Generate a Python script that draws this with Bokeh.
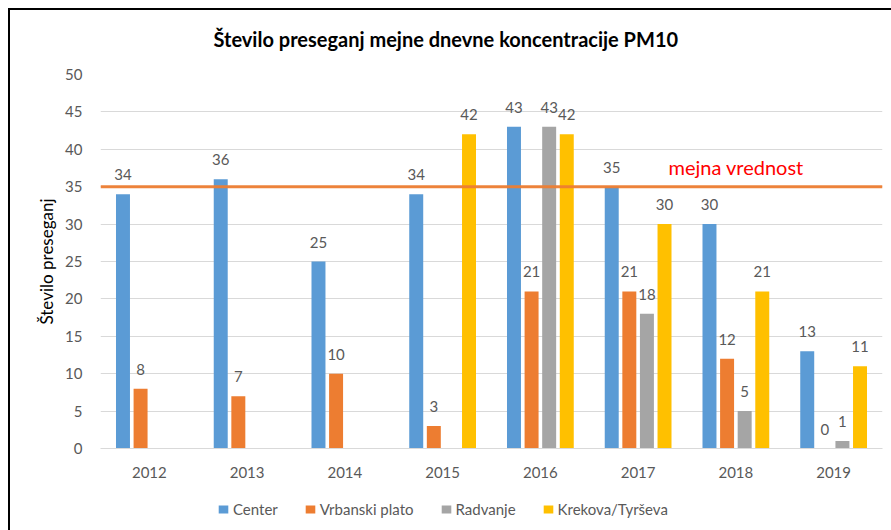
from bokeh.plotting import figure
from bokeh.layouts import column
from bokeh.models import (ColumnDataSource, FactorRange, Span, Label, Legend,
                          LegendItem, Range1d, SingleIntervalTicker)
from bokeh.transform import dodge
from bokeh.embed import file_html
from bokeh.resources import INLINE
from bokeh.core.properties import value

# ---- data ----
years = ["2012", "2013", "2014", "2015", "2016", "2017", "2018", "2019"]
series_names = ["Center", "Vrbanski plato", "Radvanje", "Krekova/Tyrševa"]
center = [34, 36, 25, 34, 43, 35, 30, 13]
vrbanski = [8, 7, 10, 3, 21, 21, 12, 0]
radvanje = [None, None, None, None, 43, 18, 5, 1]
krekova = [None, None, None, 42, 42, 30, 21, 11]
limit_value = 35
limit_label = "mejna vrednost"
title_text = "Število preseganj mejne dnevne koncentracije PM10"
y_label = "Število preseganj"

colors = ["#5B9BD5", "#ED7D31", "#A5A5A5", "#FFC000"]
offsets = [-0.27, -0.09, 0.09, 0.27]
FONT = "Lato"

p = figure(width=891, height=490, x_range=FactorRange(*years, range_padding=0),
           y_range=Range1d(0, 50), output_backend="svg", toolbar_location=None,
           title=title_text, min_border_left=100, min_border_right=9,
           min_border_top=72, min_border_bottom=42)
p.outline_line_color = None
p.background_fill_color = "white"
p.border_fill_alpha = 0
p.styles = {
    "background": ("linear-gradient(#000,#000) 8px 8px / 2px 100% no-repeat, "
                   "linear-gradient(#000,#000) 8px 8px / 100% 2px no-repeat, #ffffff"),
}

p.title.text_font = FONT
p.title.text_font_size = "20px"
p.title.text_font_style = "bold"
p.title.text_color = "#000000"
p.title.align = "left"
p.title.offset = 113
p.title.standoff = 48

# axes
p.yaxis.ticker = SingleIntervalTicker(interval=5)
p.yaxis.axis_line_color = None
p.yaxis.major_tick_line_color = None
p.yaxis.minor_tick_line_color = None
p.yaxis.major_label_text_font = FONT
p.yaxis.major_label_text_font_size = "15px"
p.yaxis.major_label_text_color = "#595959"
p.yaxis.major_label_standoff = 12
p.yaxis.axis_label = y_label
p.yaxis.axis_label_text_font = FONT
p.yaxis.axis_label_text_font_size = "17px"
p.yaxis.axis_label_text_font_style = "normal"
p.yaxis.axis_label_text_color = "#000000"
p.yaxis.axis_label_standoff = 5

p.xaxis.axis_line_color = "#D9D9D9"
p.xaxis.major_tick_line_color = None
p.xaxis.minor_tick_line_color = None
p.xaxis.major_label_text_font = FONT
p.xaxis.major_label_text_font_size = "15px"
p.xaxis.major_label_text_color = "#595959"
p.xaxis.major_label_standoff = 12

p.xgrid.grid_line_color = None
p.ygrid.grid_line_color = "#D9D9D9"
p.ygrid.grid_line_width = 1

# legend strip (separate small figure under the chart)
lg = figure(width=891, height=40, output_backend="svg", toolbar_location=None,
            x_range=Range1d(0, 1), y_range=Range1d(0, 1),
            x_axis_location=None, y_axis_location=None,
            min_border_left=0, min_border_right=0, min_border_top=0, min_border_bottom=0)
lg.outline_line_color = None
lg.grid.visible = False
lg.border_fill_alpha = 0
lg.background_fill_alpha = 0
lg.styles = {
    "background": "linear-gradient(#000,#000) 8px 0px / 2px 100% no-repeat, #ffffff",
}

all_series = [center, vrbanski, radvanje, krekova]
legend_items = []
for name, vals, col, off in zip(series_names, all_series, colors, offsets):
    xs = [y for y, v in zip(years, vals) if v is not None]
    vs = [v for v in vals if v is not None]
    src = ColumnDataSource(dict(x=xs, top=vs, text=[str(v) for v in vs]))
    p.vbar(x=dodge("x", off, range=p.x_range), top="top", width=0.143,
           source=src, fill_color=col, line_color=None)
    p.text(x=dodge("x", off, range=p.x_range), y="top", text="text", source=src,
           text_align="center", text_baseline="bottom", y_offset=-14,
           text_font=value(FONT), text_font_size="15px", text_color="#595959")
    # legend key renderer (kept outside the strip's visible range)
    key = lg.vbar(x=[-5], top=[-5], bottom=[-6], width=0.1, fill_color=col, line_color=None)
    legend_items.append(LegendItem(label=name, renderers=[key]))

# limit line
p.add_layout(Span(location=limit_value, dimension="width", line_color="#ED7D31",
                  line_width=3, line_alpha=0.95))
p.add_layout(Label(x=5.81, y=37.7, text=limit_label, text_color="#FF0000",
                   text_font=FONT, text_font_size="20px", text_baseline="alphabetic",
                   text_align="left"))

legend = Legend(items=legend_items, orientation="horizontal", location=(117, 12),
                label_text_font=FONT, label_text_font_size="15px",
                label_text_color="#595959", glyph_width=12, glyph_height=10,
                spacing=26, label_standoff=4, border_line_color=None,
                background_fill_alpha=0, padding=5, margin=0)
lg.add_layout(legend, "center")

layout = column(p, lg, spacing=0)
open("out.html", "w").write(file_html(layout, INLINE))
